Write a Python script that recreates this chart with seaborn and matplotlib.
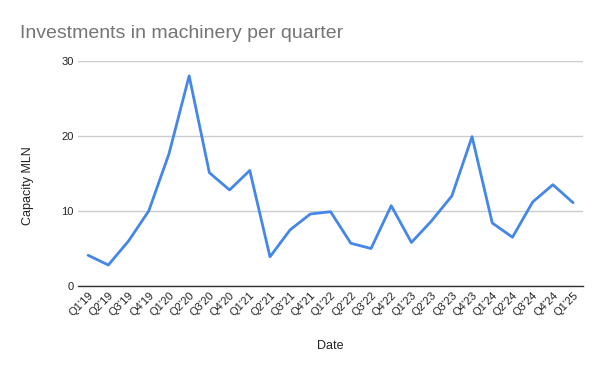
import matplotlib
matplotlib.use("Agg")
import matplotlib.pyplot as plt
import seaborn as sns
import pandas as pd

quarters = ["Q1'19","Q2'19","Q3'19","Q4'19","Q1'20","Q2'20","Q3'20","Q4'20",
            "Q1'21","Q2'21","Q3'21","Q4'21","Q1'22","Q2'22","Q3'22","Q4'22",
            "Q1'23","Q2'23","Q3'23","Q4'23","Q1'24","Q2'24","Q3'24","Q4'24","Q1'25"]
capacity = [4.1, 2.8, 6.0, 10.0, 17.6, 28.0, 15.1, 12.8,
            15.4, 3.9, 7.5, 9.6, 9.9, 5.7, 5.0, 10.7,
            5.8, 8.7, 12.0, 19.9, 8.4, 6.5, 11.2, 13.5, 11.1]
yticks = [0, 10, 20, 30]

sns.set_theme(style="white")
plt.rcParams['font.family'] = ['Liberation Sans', 'DejaVu Sans']

df = pd.DataFrame({"Date": quarters, "Capacity": capacity, "idx": range(len(quarters))})

fig = plt.figure(figsize=(6, 3.71), dpi=100)
ax = fig.add_axes([0.13, 0.229, 0.842, 0.607])
sns.lineplot(data=df, x="idx", y="Capacity", ax=ax, color="#4487E8", linewidth=2)

ax.set_xlim(-0.5, len(quarters) - 0.5)
ax.set_ylim(0, 30)
ax.set_yticks(yticks)
ax.set_yticklabels([str(v) for v in yticks], fontsize=8, color="#222222")
ax.set_xticks(range(len(quarters)))
ax.set_xticklabels(quarters, rotation=45, ha="right", rotation_mode="anchor",
                   fontsize=8, color="#222222")
ax.tick_params(axis="both", length=0, pad=3)
ax.yaxis.grid(True, color="#cccccc", linewidth=1)
ax.set_axisbelow(True)
for s in ["top", "right", "left"]:
    ax.spines[s].set_visible(False)
ax.spines["bottom"].set_color("#333333")
ax.spines["bottom"].set_linewidth(1)

ax.set_xlabel("Date", fontsize=9, color="#222222", labelpad=16)
ax.set_ylabel("Capacity MLN", fontsize=9, color="#222222")
ax.yaxis.set_label_coords(-0.088, 0.445)

fig.text(0.033, 0.91, "Investments in machinery per quarter", fontsize=14,
         color="#757575", ha="left", va="center")

fig.savefig("out.png", dpi=100)
